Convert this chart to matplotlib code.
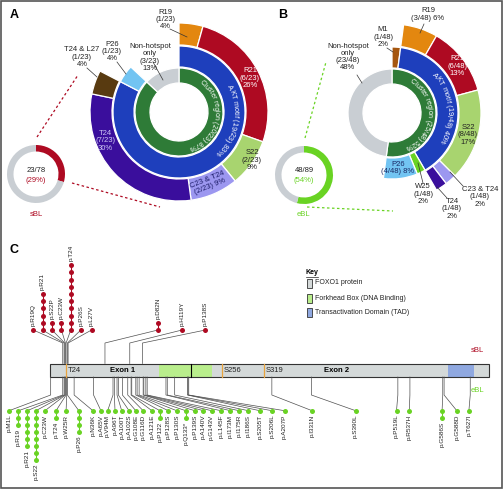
import matplotlib
matplotlib.use('Agg')
import matplotlib.pyplot as plt
from matplotlib.patches import Rectangle
from matplotlib.font_manager import FontProperties
from matplotlib.textpath import TextToPath
import numpy as np

plt.rcParams['font.family'] = ['Liberation Sans', 'DejaVu Sans']

# ---- data: panel A (sBL) ----
a_outer = [1, 6, 2, 2, 7, 1, 4]          # R19, R21, S22, C23&T24, T24, T24&L27, rest
a_middle = [19, 1, 3]                    # AKT motif, P26, rest
a_inner = [20, 3]                        # cluster region, non-hotspot only
a_small = [23, 55]                       # mutated / not (23/78)

# ---- data: panel B (eBL) ----
b_outer = [1, 3, 6, 8, 1, 1, 28]         # (M1 gap), R19, R21, S22, C23&T24, T24, rest
b_middle = [1, 19, 1, 4, 23]             # M1, AKT motif, W25, P26, rest
b_inner = [25, 23]                       # cluster region, non-hotspot only
b_small = [48, 41]                       # 48/89

# ---- data: panel C lollipops ----
prot_len = 655
sbl_labels = ['p.R19Q', 'p.R21', 'p.S22P', 'p.C23W', 'p.T24', 'p.P26S', 'p.L27V',
              'p.D82N', 'p.H119Y', 'p.P138S']
sbl_pos = [19, 21, 22, 23, 24, 26, 27, 82, 119, 138]
sbl_n = [1, 6, 2, 2, 10, 1, 1, 2, 1, 1]
sbl_slot = [-25, -11, 3, 17, 31, 46, 62, 161, 197, 232]

ebl_labels = ['p.M1L', 'p.R19', 'p.R21', 'p.S22', 'p.C23W', 'p.T24', 'p.W25R', 'p.P26',
              'p.N36K', 'p.A65V', 'p.V94M', 'p.A96T', 'p.A100T', 'p.A102S', 'p.G108E',
              'p.G116D', 'p.A121E', 'p.P122', 'p.P128S', 'p.P130S', 'p.Q133*', 'p.P139S',
              'p.A140V', 'p.G143V', 'p.L145F', 'p.I173M', 'p.I175R', 'p.I186S', 'p.S205T',
              'p.S206L', 'p.A207P', 'p.I331N', 'p.S390L', 'p.P519L', 'p.R537H', 'p.G586S',
              'p.G588D', 'p.T627I']
ebl_pos = [1, 19, 21, 22, 23, 24, 25, 26, 36, 65, 94, 96, 100, 102, 108, 116, 121, 122,
           128, 130, 133, 139, 140, 143, 145, 173, 175, 186, 205, 206, 207, 331, 390, 519,
           537, 586, 588, 627]
ebl_n = [1, 3, 6, 8, 1, 2, 1, 4, 1, 1, 1, 1, 1, 1, 1, 1, 1, 2, 1, 1, 2, 1, 1, 1, 1, 1,
         1, 1, 1, 1, 1, 1, 1, 1, 1, 2, 1, 1]
ebl_slot = [-61, -47, -34, -21, -7.5, 9, 24, 43, 64, 76, 86, 97, 107, 118, 128, 139, 152,
            164, 176.5, 189, 202.5, 216, 229, 241, 255, 269, 282, 296, 313, 331, 350, 391,
            456, 517, 536, 585, 607, 625]

forkhead = (162, 242)
tad = (594, 632)
exon_break = 211
sites = [24, 256, 319]

# colours
RED = '#AE0A22'
ORANGE = '#E3870F'
LGREEN = '#A8D46F'
LPURPLE = '#9C97F0'
DPURPLE = '#3A0E9C'
BROWN = '#583A10'
LBLUE = '#72C4F2'
BLUE = '#1E3FBC'
DGREEN = '#2E7B37'
GREY = '#C9CED3'
M1BROWN = '#A5560F'
BGREEN = '#69D323'

W, H = 504, 491
fig = plt.figure(figsize=(W / 100, H / 100), dpi=100)

ax_pie = fig.add_axes([0, 0, 1, 1], label='pie')
ax_c = fig.add_axes([0, 0, 1, 1], label='protein')
ax_px = fig.add_axes([0, 0, 1, 1], label='px')


def ring(ax, vals, cols, cx, cy, r, w, lw=0.9):
    wedges, _ = ax.pie(vals, colors=cols, radius=r, center=(cx, H - cy), startangle=90,
                       counterclock=False, frame=True,
                       wedgeprops=dict(width=w, edgecolor='white', linewidth=lw))
    for wd, c in zip(wedges, cols):
        if c == 'none':
            wd.set_edgecolor('none')
    return wedges


ttp = TextToPath()


def arc_text(ax, s, cx, cy, r, mid, fs=5.3, color='white'):
    # text bent along a ring, read clockwise
    prop = FontProperties(family='Liberation Sans', size=fs)
    ws = [ttp.get_text_width_height_descent(ch, prop, ismath=False)[0] * 100 / 72 for ch in s]
    total = sum(ws)
    start = np.deg2rad(mid) + total / r / 2
    cum = 0
    for ch, w in zip(s, ws):
        th = start - (cum + w / 2) / r
        cum += w
        ax.text(cx + r * np.cos(th), H - cy + r * np.sin(th), ch, rotation=np.rad2deg(th) - 90,
                rotation_mode='anchor', ha='center', va='center', fontsize=fs, color=color)


# ---- panel A donut ----
ca = (179, 112)
ring(ax_pie, a_outer, [ORANGE, RED, LGREEN, LPURPLE, DPURPLE, BROWN, 'none'], *ca, 89, 22)
ring(ax_pie, a_middle, [BLUE, LBLUE, 'none'], *ca, 66, 21)
ring(ax_pie, a_inner, [DGREEN, GREY], *ca, 44, 15)
ring(ax_pie, a_small, [RED, GREY], 36, 174, 29, 6.5, lw=0)
arc_text(ax_pie, 'Cluster region (20/23) 87%', *ca, 37, -9, fs=5.0)
arc_text(ax_pie, 'AKT motif (19/23) 83%', *ca, 56, -10)

# ---- panel B donut ----
cb = (392, 113)
ring(ax_pie, b_outer, ['none', ORANGE, RED, LGREEN, LPURPLE, DPURPLE, 'none'], *cb, 89, 22)
ring(ax_pie, b_middle, [M1BROWN, BLUE, BGREEN, LBLUE, 'none'], *cb, 66, 21)
ring(ax_pie, b_inner, [DGREEN, GREY], *cb, 44, 15)
ring(ax_pie, b_small, [BGREEN, GREY], 304, 175, 29, 6.5, lw=0)
arc_text(ax_pie, 'Cluster region (25/48) 52%', *cb, 37, -4, fs=5.0)
arc_text(ax_pie, 'AKT motif (19/48) 40%', *cb, 57, 6)

ax_pie.set_xlim(0, W)
ax_pie.set_ylim(0, H)
ax_pie.set_aspect('auto')
ax_pie.axis('off')

# ---- text and decorations (pixel coordinates, y down) ----
ax_px.set_xlim(0, W)
ax_px.set_ylim(H, 0)
ax_px.axis('off')
ax_px.patch.set_alpha(0)

FS = 5.5


def note(x, y, s, color='#222222', **kw):
    ax_px.text(x, y, s, ha='center', va='center', fontsize=FS, color=color,
               linespacing=1.05, **kw)


def lead(x0, y0, x1, y1, color='#333333'):
    ax_px.plot([x0, x1], [y0, y1], color=color, lw=0.5)


ax_px.text(10, 15, 'A', fontsize=9, fontweight='bold', va='center')
ax_px.text(278, 15, 'B', fontsize=9, fontweight='bold', va='center')
ax_px.text(10, 250, 'C', fontsize=9, fontweight='bold', va='center')

# A labels
note(165, 19.5, 'R19\n(1/23)\n4%')
lead(170, 29, 187, 37)
note(82, 57, 'T24 & L27\n(1/23)\n4%')
lead(87, 68, 97, 77)
note(112, 51.5, 'P26\n(1/23)\n4%')
lead(117, 62, 126, 74)
note(150, 57.5, 'Non-hotspot\nonly\n(3/23)\n13%')
lead(153, 62, 163, 80)
note(250, 78, 'R21\n(6/23)\n26%', color='white')
note(252, 160, 'S22\n(2/23)\n9%')
note(105, 141, 'T24\n(7/23)\n30%', color='#CFC8F5')
note(209, 183, 'C23 & T24\n(2/23) 9%', color='#1A1A66', rotation=22)
ax_px.text(36, 171, '23/78', ha='center', va='center', fontsize=FS, color='#222222')
ax_px.text(36, 180, '(29%)', ha='center', va='center', fontsize=FS, color=RED)
ax_px.text(36, 215, 'sBL', ha='center', va='center', fontsize=FS, color=RED)
ax_px.plot([37, 78], [137, 75], color=RED, lw=0.9, ls=(0, (2, 2)))
ax_px.plot([72, 160], [183, 207], color=RED, lw=0.9, ls=(0, (2, 2)))

# B labels
note(428, 14.5, 'R19\n(3/48) 6%')
lead(424, 24, 420, 33)
note(383, 37, 'M1\n(1/48)\n2%')
lead(387, 48, 393, 52)
note(348, 57, 'Non-hotspot\nonly\n(23/48)\n48%')
lead(357, 75, 362, 83)
note(457, 66, 'R21\n(6/48)\n13%', color='white')
note(468, 135, 'S22\n(8/48)\n17%')
note(398, 168, 'P26\n(4/48) 8%', color='#1A2A66')
note(423, 194, 'W25\n(1/48)\n2%')
lead(418, 163, 423, 183)
note(452, 209, 'T24\n(1/48)\n2%')
lead(437, 187, 447, 198)
note(480, 197, 'C23 & T24\n(1/48)\n2%')
lead(450, 172, 463, 186)
ax_px.text(304, 171, '48/89', ha='center', va='center', fontsize=FS, color='#222222')
ax_px.text(304, 180, '(54%)', ha='center', va='center', fontsize=FS, color=BGREEN)
ax_px.text(303, 215, 'eBL', ha='center', va='center', fontsize=FS, color=BGREEN)
ax_px.plot([305, 326], [138, 62], color=BGREEN, lw=0.9, ls=(0, (2, 2)))
ax_px.plot([307, 393], [207, 211], color=BGREEN, lw=0.9, ls=(0, (2, 2)))

# key
ax_px.text(306, 273, 'Key', fontsize=5, fontweight='bold', va='center')
ax_px.plot([306, 318], [277, 277], color='#222222', lw=0.5)
for y, fc, lab in [(283, '#D4D9D9', 'FOXO1 protein'),
                   (298, '#B9EE8C', 'Forkhead Box (DNA Binding)'),
                   (312, '#8FA8E0', 'Transactivation Domain (TAD)')]:
    ax_px.add_patch(Rectangle((307, y - 4.5), 5, 9, fc=fc, ec='#333333', lw=0.6))
    ax_px.text(315, y, lab, fontsize=5, va='center', color='#222222')

ax_px.text(484, 350, 'sBL', ha='right', va='center', fontsize=FS, color=RED)
ax_px.text(484, 391, 'eBL', ha='right', va='center', fontsize=FS, color=BGREEN)
ax_px.add_patch(Rectangle((0.5, 0.5), 501.5, 487.5, fill=False, ec='#555555', lw=1.2))

# ---- panel C protein (x in amino acids, y in pixels) ----
k = prot_len / 439
ax_c.set_xlim(-50 * k, prot_len + (W - 489) * k)
ax_c.set_ylim(H, 0)
ax_c.axis('off')
ax_c.patch.set_alpha(0)

bar_top, bar_h = 363.5, 13.5
ax_c.add_patch(Rectangle((0, bar_top), prot_len, bar_h, fc='#D4D9D9', ec='none'))
ax_c.add_patch(Rectangle((forkhead[0], bar_top), forkhead[1] - forkhead[0], bar_h,
                         fc='#B9EE8C', ec='none'))
ax_c.add_patch(Rectangle((tad[0], bar_top), tad[1] - tad[0], bar_h, fc='#8FA8E0', ec='none'))
ax_c.plot([exon_break, exon_break], [bar_top, bar_top + bar_h], color='black', lw=0.8)
for s in sites:
    ax_c.plot([s, s], [bar_top, bar_top + bar_h], color='#E8A33D', lw=0.9)
ax_c.add_patch(Rectangle((0, bar_top), prot_len, bar_h, fill=False, ec='#333333', lw=0.8))
yb = bar_top + bar_h / 2
ax_c.text(27, yb, 'T24', fontsize=FS, va='center', color='#222222')
ax_c.text(109, yb, 'Exon 1', fontsize=FS, va='center', ha='center', fontweight='bold')
ax_c.text(259, yb, 'S256', fontsize=FS, va='center', color='#222222')
ax_c.text(322, yb, 'S319', fontsize=FS, va='center', color='#222222')
ax_c.text(428, yb, 'Exon 2', fontsize=FS, va='center', ha='center', fontweight='bold')

LC = '#505050'
# sBL above
for lab, a, n, d in zip(sbl_labels, sbl_pos, sbl_n, sbl_slot):
    ax_c.plot([d, a, a], [330, 343, bar_top], color=LC, lw=0.5, zorder=1)
    ys = 330 - 7.2 * np.arange(n)
    ax_c.plot([d, d], [ys[0], ys[-1]], color=RED, lw=0.8, zorder=2)
    ax_c.plot([d] * n, ys, 'o', ms=3.6, color=RED, mec='none', zorder=3)
    ax_c.text(d, ys[-1] - 4, lab, rotation=90, ha='center', va='bottom', fontsize=4.6,
              color='#222222')

# eBL below
for lab, a, n, d in zip(ebl_labels, ebl_pos, ebl_n, ebl_slot):
    ax_c.plot([a, a, d], [bar_top + bar_h, 395, 410.7], color=LC, lw=0.5, zorder=1)
    ys = 410.7 + 7 * np.arange(n)
    ax_c.plot([d, d], [ys[0], ys[-1]], color=BGREEN, lw=0.8, zorder=2)
    ax_c.plot([d] * n, ys, 'o', ms=3.6, color=BGREEN, mec='none', zorder=3)
    ax_c.text(d, ys[-1] + 4, lab, rotation=90, ha='center', va='top', fontsize=4.6,
              color='#222222')

fig.savefig('out.png', dpi=100)
